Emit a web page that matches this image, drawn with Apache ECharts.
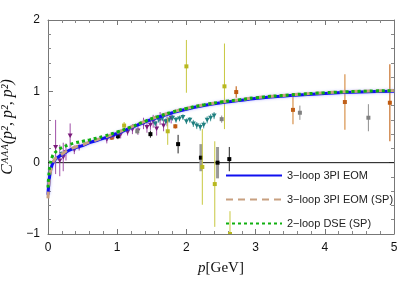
<!DOCTYPE html>
<html><head><meta charset="utf-8">
<script src="https://cdn.jsdelivr.net/npm/echarts@6/dist/echarts.min.js"></script>
<style>html,body{margin:0;padding:0;background:#fff}#c{width:399px;height:285px}</style>
</head><body><div id="c"></div>
<script>
// Theory curves
const curveP = [0, 0.01, 0.03, 0.06, 0.1, 0.15, 0.2, 0.3, 0.4, 0.5, 0.6, 0.8, 1.0, 1.2, 1.4, 1.6, 1.8, 2.0, 2.25, 2.5, 2.75, 3, 3.5, 4, 4.5, 5];
const blueC  = [-0.45, -0.32, -0.15, -0.03, 0.04, 0.08, 0.11, 0.17, 0.21, 0.24, 0.28, 0.34, 0.41, 0.49, 0.57, 0.64, 0.70, 0.75, 0.80, 0.84, 0.87, 0.90, 0.94, 0.97, 0.99, 1.00];
const tanC   = [-0.50, -0.34, -0.16, -0.03, 0.05, 0.09, 0.12, 0.18, 0.22, 0.25, 0.29, 0.35, 0.42, 0.50, 0.58, 0.65, 0.71, 0.76, 0.81, 0.85, 0.88, 0.91, 0.95, 0.98, 1.00, 1.01];
const greenC = [-0.35, -0.20, -0.03, 0.08, 0.14, 0.18, 0.21, 0.25, 0.28, 0.30, 0.32, 0.37, 0.43, 0.50, 0.58, 0.65, 0.71, 0.76, 0.81, 0.85, 0.88, 0.91, 0.95, 0.98, 1.00, 1.01];
const seriesNames = ['3\u2212loop 3PI EOM', '3\u2212loop 3PI EOM (SP)', '2\u2212loop DSE (SP)'];

// Lattice data: [p, C, error]
const purpleData = [[0.11,0.22,0.38],[0.17,0.03,0.22],[0.22,0.08,0.2],[0.26,0.15,0.12],[0.32,0.38,0.17],[0.38,0.18,0.06],[0.45,0.22,0.05],
  [0.85,0.33,0.06],[0.95,0.38,0.05],[1.05,0.40,0.06],[1.15,0.43,0.05],[1.22,0.47,0.07],[1.3,0.45,0.06],[1.38,0.55,0.08],[1.43,0.50,0.08],
  [1.48,0.53,0.07],[1.52,0.58,0.09],[1.57,0.48,0.1],[1.62,0.62,0.09],[1.67,0.52,0.08],[1.72,0.58,0.07],[1.78,0.63,0.08]];
const tealData = [[0.2,0.12,0.04],[1.55,0.55,0.04],[1.6,0.6,0.04],[1.65,0.62,0.04],[1.7,0.58,0.04],[1.75,0.6,0.04],[1.8,0.63,0.04],[1.85,0.6,0.04],
  [1.9,0.62,0.04],[1.95,0.64,0.04],[2.0,0.58,0.04],[2.05,0.6,0.04],[2.1,0.55,0.05],[2.15,0.52,0.05],[2.2,0.5,0.05],[2.25,0.53,0.05],
  [2.3,0.6,0.05],[2.35,0.63,0.05],[2.4,0.66,0.05]];
const grayData = [[1.29,0.44,0.04],[2.51,0.61,0.05],[3.64,0.70,0.1],[4.63,0.63,0.19]];
const blackData = [[1.01,0.37,0.04],[1.48,0.40,0.05],[1.88,0.26,0.13],[2.62,0.05,0.17]];
const blackWideData = [[2.21,0.07,0.19],[2.45,0.0,0.22]];
const yellowData = [[1.1,0.52,0.05],[1.73,0.44,0.19],[2.0,1.35,0.37],[2.23,-0.06,0.53],[2.41,-0.3,0.6],[2.55,1.07,0.6],[2.63,-1.0,0.32]];
const orangeData = [[0.92,0.35,0.03],[1.84,0.51,0.03],[2.72,0.99,0.08],[4.94,0.84,0.54]];
const lightOrangeData = [[3.54,0.74,0.2],[4.29,0.85,0.39]];

const xTicks = [0, 1, 2, 3, 4, 5];
const yTicks = [-1, 0, 1, 2];

function errSeries(data, color, barColor, barWidth, shape) {
  return {
    type: 'custom', data: data, clip: true, z: 3,
    renderItem: function (params, api) {
      const x = api.value(0), y = api.value(1), e = api.value(2);
      const t = api.coord([x, y + e]), b = api.coord([x, y - e]), c = api.coord([x, y]);
      const ch = [{ type: 'line', shape: { x1: t[0], y1: t[1], x2: b[0], y2: b[1] }, style: { stroke: barColor, lineWidth: barWidth } }];
      if (shape === 'tri') {
        ch.push({ type: 'polygon', shape: { points: [[c[0]-2.5, c[1]-2], [c[0]+2.5, c[1]-2], [c[0], c[1]+2.5]] }, style: { fill: color } });
      } else {
        ch.push({ type: 'rect', shape: { x: c[0]-2, y: c[1]-2, width: 4, height: 4 }, style: { fill: color } });
      }
      return { type: 'group', children: ch };
    }
  };
}

const zip = (xs, ys) => xs.map((x, i) => [x, ys[i]]);
const chart = echarts.init(document.getElementById('c'), null, { renderer: 'canvas' });
const axisCommon = {
  axisLine: { show: true, onZero: false, lineStyle: { color: '#777', width: 1 } },
  axisTick: { show: true, inside: true, length: 5, lineStyle: { color: '#777' } },
  minorTick: { show: true, splitNumber: 5, length: 3, lineStyle: { color: '#888' } },
  splitLine: { show: false }
};
chart.setOption({
  animation: false,
  grid: { left: 48, right: 5, top: 20, bottom: 51, containLabel: false, outerBoundsMode: 'none' },
  legend: {
    data: seriesNames, orient: 'vertical', left: 220, top: 165, itemWidth: 56, itemHeight: 12, itemGap: 13,
    itemStyle: { opacity: 0 },
    textStyle: { fontFamily: 'Liberation Sans', fontSize: 11, color: '#222' }
  },
  xAxis: [
    Object.assign({ type: 'value', min: 0, max: 5, interval: 1, position: 'bottom',
      axisLabel: { fontFamily: 'Liberation Sans', fontSize: 12, color: '#111', margin: 8,
        formatter: v => xTicks.includes(v) ? String(v) : '' },
      name: '{i|p}{n|[GeV]}', nameLocation: 'middle', nameGap: 27,
      nameTextStyle: { rich: { i: { fontFamily: 'Liberation Serif', fontStyle: 'italic', fontSize: 15, color: '#111' },
                               n: { fontFamily: 'Liberation Serif', fontSize: 15, color: '#111' } } } }, axisCommon),
    Object.assign({ type: 'value', min: 0, max: 5, interval: 1, position: 'top', axisLabel: { show: false } }, axisCommon)
  ],
  yAxis: [
    Object.assign({ type: 'value', min: -1, max: 2, interval: 1, position: 'left',
      axisLabel: { fontFamily: 'Liberation Sans', fontSize: 12, color: '#111', margin: 8,
        formatter: v => yTicks.includes(v) ? (v < 0 ? '\u2212' + Math.abs(v) : String(v)) : '' },
      name: 'C\u1D2C\u1D2C\u1D2C(p\u00B2, p\u00B2, p\u00B2)', nameLocation: 'middle', nameGap: 27, nameRotate: 90,
      nameTextStyle: { fontFamily: 'Liberation Serif', fontStyle: 'italic', fontSize: 16, color: '#111' } }, axisCommon),
    Object.assign({ type: 'value', min: -1, max: 2, interval: 1, position: 'right', axisLabel: { show: false } }, axisCommon)
  ],
  series: [
    { type: 'line', data: [[0, 0], [5, 0]], symbol: 'none', silent: true, z: 1,
      lineStyle: { color: '#111', width: 1 } },
    errSeries(purpleData, '#7a1a7a', '#a050a8', 1, 'tri'),
    errSeries(tealData, '#208080', '#50a0a0', 1, 'tri'),
    errSeries(grayData, '#808080', '#909090', 1, 'rect'),
    errSeries(blackWideData, '#000', '#999', 3, 'rect'),
    errSeries(blackData, '#000', '#222', 1, 'rect'),
    errSeries(yellowData, '#b8b820', '#c8c840', 1, 'rect'),
    errSeries(orangeData, '#c05a10', '#c8702a', 1.2, 'rect'),
    errSeries(lightOrangeData, '#c06018', '#e0a870', 1.5, 'rect'),
    { name: seriesNames[0], type: 'line', data: zip(curveP, blueC), symbol: 'none', smooth: true, z: 5,
      lineStyle: { color: '#1010f0', width: 3, shadowColor: 'rgba(120,120,255,0.6)', shadowBlur: 3 } },
    { name: seriesNames[1], type: 'line', data: zip(curveP, tanC), symbol: 'none', smooth: true, z: 6,
      lineStyle: { color: '#c8a080', width: 3, type: [7, 5] } },
    { name: seriesNames[2], type: 'line', data: zip(curveP, greenC), symbol: 'none', smooth: true, z: 7,
      lineStyle: { color: '#10b010', width: 3, type: [3, 3] } }
  ]
});
</script></body></html>
